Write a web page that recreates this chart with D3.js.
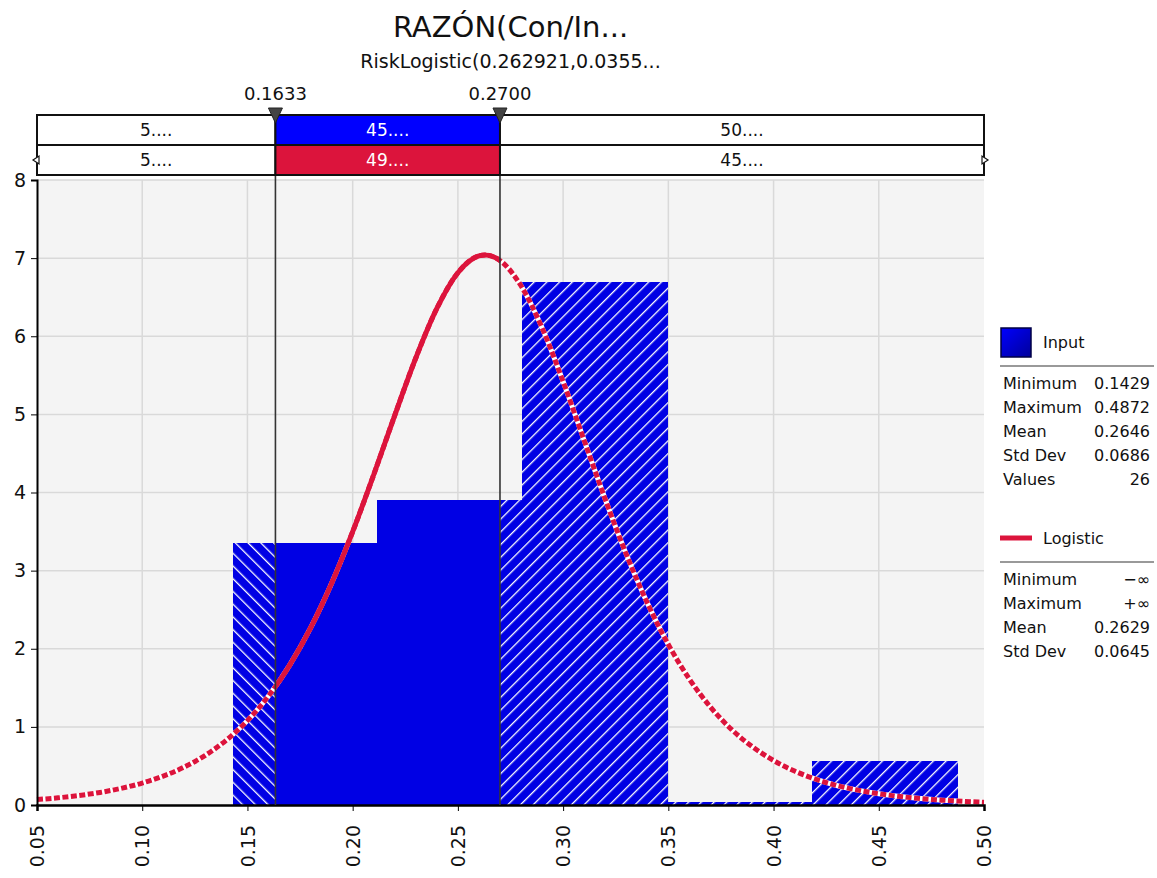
<!DOCTYPE html>
<html>
<head>
<meta charset="utf-8">
<script src="https://cdn.jsdelivr.net/npm/d3@7"></script>
<style>
  body { margin: 0; background: #fff; }
  svg { display: block; font-family: "DejaVu Sans", Verdana, sans-serif; }
</style>
</head>
<body>
<div id="chart"></div>
<script>
// chart values
var titleText = "RAZÓN(Con/In...";
var subtitleText = "RiskLogistic(0.262921,0.0355...";

var binEdges = [0.1429, 0.2118, 0.2806, 0.3495, 0.4183, 0.4872];
var binDensity = [3.35, 3.91, 6.70, 0.00, 0.56];

var curveX = [0.05, 0.06, 0.07, 0.08, 0.09, 0.10, 0.11, 0.12, 0.13, 0.14,
  0.15, 0.16, 0.17, 0.18, 0.19, 0.20, 0.21, 0.22, 0.23, 0.24,
  0.25, 0.26, 0.263, 0.27, 0.28, 0.29, 0.30, 0.31, 0.32, 0.33, 0.34,
  0.35, 0.36, 0.37, 0.38, 0.39, 0.40, 0.41, 0.42, 0.43, 0.44,
  0.45, 0.46, 0.47, 0.48, 0.49, 0.50];
var curveY = [0.070, 0.092, 0.122, 0.161, 0.213, 0.281, 0.370, 0.486, 0.636, 0.831,
  1.080, 1.395, 1.787, 2.266, 2.838, 3.498, 4.227, 4.988, 5.722, 6.356,
  6.813, 7.029, 7.040, 6.970, 6.646, 6.108, 5.421, 4.667, 3.915, 3.211, 2.587,
  2.054, 1.612, 1.254, 0.968, 0.744, 0.569, 0.434, 0.330, 0.250, 0.190,
  0.144, 0.109, 0.082, 0.062, 0.047, 0.035];

var xTicks = [0.05, 0.10, 0.15, 0.20, 0.25, 0.30, 0.35, 0.40, 0.45, 0.50];
var yTicks = [0, 1, 2, 3, 4, 5, 6, 7, 8];

var markers = [0.1633, 0.2700];
var markerLabels = ["0.1633", "0.2700"];
var bandInput = ["5....", "45....", "50...."];
var bandFit = ["5....", "49....", "45...."];

var inputStats = [["Minimum", "0.1429"], ["Maximum", "0.4872"], ["Mean", "0.2646"],
  ["Std Dev", "0.0686"], ["Values", "26"]];
var fitStats = [["Minimum", "\u2212\u221e"], ["Maximum", "+\u221e"], ["Mean", "0.2629"],
  ["Std Dev", "0.0645"]];

var blue = "#0000e4";
var red = "#dc143c";

// layout
var svgWidth = 1157;
var svgHeight = 878;
var margin = { top: 180, right: 173, bottom: 73, left: 37 };
var width = svgWidth - margin.left - margin.right;
var height = svgHeight - margin.top - margin.bottom;

var svg = d3.select("#chart")
  .append("svg")
  .attr("width", svgWidth)
  .attr("height", svgHeight);

var defs = svg.append("defs");

// hatch patterns: "\" on the left, "/" on the right
function hatch(id, angle) {
  var p = defs.append("pattern")
    .attr("id", id)
    .attr("patternUnits", "userSpaceOnUse")
    .attr("width", 9)
    .attr("height", 9)
    .attr("patternTransform", "rotate(" + angle + ")");
  p.append("rect").attr("width", 9).attr("height", 9).attr("fill", blue);
  p.append("line").attr("x1", 0).attr("y1", 0).attr("x2", 0).attr("y2", 9)
    .attr("stroke", "#fff").attr("stroke-width", 2.6);
}
hatch("hatchL", -45);
hatch("hatchR", 45);

var grad = defs.append("linearGradient").attr("id", "swatch")
  .attr("x1", 0).attr("y1", 0).attr("x2", 1).attr("y2", 1);
grad.append("stop").attr("offset", "0%").attr("stop-color", "#0000ff");
grad.append("stop").attr("offset", "100%").attr("stop-color", "#00009a");

var x = d3.scaleLinear().domain([0.05, 0.5]).range([0, width]);
var y = d3.scaleLinear().domain([0, 8]).range([height, 0]);

var chartGroup = svg.append("g")
  .attr("transform", `translate(${margin.left}, ${margin.top})`);

// clip regions split at the two markers (chart coordinates)
var regions = [
  { id: "clipL", x0: -5, x1: x(markers[0]), fill: "url(#hatchL)" },
  { id: "clipM", x0: x(markers[0]), x1: x(markers[1]), fill: blue },
  { id: "clipR", x0: x(markers[1]), x1: width + 5, fill: "url(#hatchR)" }
];
regions.forEach(function(r) {
  defs.append("clipPath").attr("id", r.id)
    .append("rect")
    .attr("x", r.x0).attr("y", -10)
    .attr("width", r.x1 - r.x0).attr("height", height + 20);
});

// background + grid
chartGroup.append("rect")
  .attr("width", width).attr("height", height)
  .attr("fill", "#f4f4f4");

chartGroup.append("g")
  .selectAll("line")
  .data(xTicks.slice(1, -1))
  .enter().append("line")
  .attr("x1", d => x(d)).attr("x2", d => x(d))
  .attr("y1", 0).attr("y2", height)
  .attr("stroke", "#d9d9d9").attr("stroke-width", 1.5);

chartGroup.append("g")
  .selectAll("line")
  .data(yTicks.slice(1))
  .enter().append("line")
  .attr("x1", 0).attr("x2", width)
  .attr("y1", d => y(d)).attr("y2", d => y(d))
  .attr("stroke", "#d9d9d9").attr("stroke-width", 1.5);

// histogram
var bins = binDensity.map(function(v, i) {
  return { x0: binEdges[i], x1: binEdges[i + 1], v: v };
});

regions.forEach(function(r) {
  chartGroup.append("g")
    .attr("clip-path", "url(#" + r.id + ")")
    .selectAll("rect")
    .data(bins)
    .enter().append("rect")
    .attr("x", d => x(d.x0))
    .attr("width", d => x(d.x1) - x(d.x0) + 0.6)
    .attr("y", d => Math.min(y(d.v), height - 3))
    .attr("height", d => Math.max(height - y(d.v), 3))
    .attr("shape-rendering", "crispEdges")
    .attr("fill", r.fill);
});

// fitted curve: dashed outside the markers, solid between them
var line = d3.line()
  .x(d => x(d[0]))
  .y(d => y(d[1]))
  .curve(d3.curveMonotoneX);
var pts = curveX.map((v, i) => [v, curveY[i]]);

chartGroup.append("path").datum(pts)
  .attr("d", line).attr("fill", "none")
  .attr("stroke", "#fff").attr("stroke-width", 5);
chartGroup.append("path").datum(pts)
  .attr("d", line).attr("fill", "none")
  .attr("stroke", red).attr("stroke-width", 5)
  .attr("stroke-dasharray", "6,2.5");
chartGroup.append("g")
  .attr("clip-path", "url(#clipM)")
  .append("path").datum(pts)
  .attr("d", line).attr("fill", "none")
  .attr("stroke", red).attr("stroke-width", 5);

// axes
var bottomAxis = d3.axisBottom(x).tickValues(xTicks).tickSize(6).tickFormat(d3.format(".2f"));
var leftAxis = d3.axisLeft(y).tickValues(yTicks).tickSize(6);

var xAxisG = chartGroup.append("g")
  .attr("transform", `translate(0, ${height})`)
  .call(bottomAxis);
xAxisG.select(".domain").attr("stroke-width", 2.5);
xAxisG.selectAll("text")
  .attr("transform", "rotate(-90)")
  .attr("x", -20).attr("y", 0).attr("dy", "0.35em")
  .attr("text-anchor", "end")
  .attr("font-size", "19px")
  .attr("font-family", "DejaVu Sans")
  .attr("fill", "#111");

var yAxisG = chartGroup.append("g").call(leftAxis);
yAxisG.select(".domain").attr("stroke-width", 2);
yAxisG.selectAll("text")
  .attr("x", -11)
  .attr("font-size", "19px")
  .attr("font-family", "DejaVu Sans")
  .attr("fill", "#111");

// marker lines
var bandTop = 115 - margin.top;
var bandMid = 145 - margin.top;
var bandBot = 175 - margin.top;

chartGroup.selectAll("line.marker")
  .data(markers)
  .enter().append("line")
  .attr("class", "marker")
  .attr("x1", d => x(d)).attr("x2", d => x(d))
  .attr("y1", bandTop).attr("y2", height)
  .attr("stroke", "#333").attr("stroke-width", 1.6);

// delimiter band
function band(labels, y0, y1, midFill) {
  var edges = [0, x(markers[0]), x(markers[1]), width];
  var g = chartGroup.append("g");
  labels.forEach(function(t, i) {
    g.append("rect")
      .attr("x", edges[i]).attr("y", y0)
      .attr("width", edges[i + 1] - edges[i]).attr("height", y1 - y0)
      .attr("fill", i === 1 ? midFill : "#fff")
      .attr("stroke", "#111").attr("stroke-width", 2);
    g.append("text")
      .attr("x", (edges[i] + edges[i + 1]) / 2)
      .attr("y", (y0 + y1) / 2)
      .attr("dy", "0.36em")
      .attr("text-anchor", "middle")
      .attr("font-size", "17px")
      .attr("fill", i === 1 ? "#fff" : "#111")
      .text(t);
  });
}
band(bandInput, bandTop, bandMid, "#0000ff");
band(bandFit, bandMid, bandBot, red);

// small arrow heads on the fit row
[[0, -1], [width, 1]].forEach(function(a) {
  var cy = (bandMid + bandBot) / 2;
  chartGroup.append("path")
    .attr("d", `M${a[0] + a[1] * 4},${cy} L${a[0] - a[1] * 2},${cy - 4} L${a[0] - a[1] * 2},${cy + 4} Z`)
    .attr("fill", "#fff").attr("stroke", "#111").attr("stroke-width", 1.2);
});

// marker triangles and labels
chartGroup.selectAll("path.tri")
  .data(markers)
  .enter().append("path")
  .attr("class", "tri")
  .attr("d", d => `M${x(d) - 7},${bandTop - 7} L${x(d) + 7},${bandTop - 7} L${x(d)},${bandTop + 8} Z`)
  .attr("fill", "#444").attr("stroke", "#222").attr("stroke-width", 1);

chartGroup.selectAll("text.mlab")
  .data(markers)
  .enter().append("text")
  .attr("class", "mlab")
  .attr("x", d => x(d))
  .attr("y", 100 - margin.top)
  .attr("text-anchor", "middle")
  .attr("font-size", "18px")
  .attr("fill", "#111")
  .text((d, i) => markerLabels[i]);

// titles
svg.append("text")
  .attr("x", margin.left + width / 2).attr("y", 37)
  .attr("text-anchor", "middle")
  .attr("font-size", "29px")
  .attr("fill", "#111")
  .text(titleText);

svg.append("text")
  .attr("x", margin.left + width / 2).attr("y", 68)
  .attr("text-anchor", "middle")
  .attr("font-size", "19px")
  .attr("fill", "#111")
  .text(subtitleText);

// legend
var lg = svg.append("g").attr("font-size", "16px").attr("fill", "#111");

lg.append("rect")
  .attr("x", 1001).attr("y", 328).attr("width", 30).attr("height", 29)
  .attr("fill", "url(#swatch)").attr("stroke", "#000044").attr("stroke-width", 1.5);
lg.append("text").attr("x", 1043).attr("y", 348).text("Input");
lg.append("line").attr("x1", 1000).attr("x2", 1154).attr("y1", 366).attr("y2", 366)
  .attr("stroke", "#999").attr("stroke-width", 2);

function statRows(rows, y0) {
  rows.forEach(function(r, i) {
    lg.append("text").attr("x", 1003).attr("y", y0 + i * 24).text(r[0]);
    lg.append("text").attr("x", 1150).attr("y", y0 + i * 24)
      .attr("text-anchor", "end").text(r[1]);
  });
}
statRows(inputStats, 389);

lg.append("line").attr("x1", 1000).attr("x2", 1032).attr("y1", 538).attr("y2", 538)
  .attr("stroke", red).attr("stroke-width", 5);
lg.append("text").attr("x", 1043).attr("y", 544).text("Logistic");
lg.append("line").attr("x1", 1000).attr("x2", 1154).attr("y1", 562).attr("y2", 562)
  .attr("stroke", "#999").attr("stroke-width", 2);
statRows(fitStats, 585);
</script>
</body>
</html>
